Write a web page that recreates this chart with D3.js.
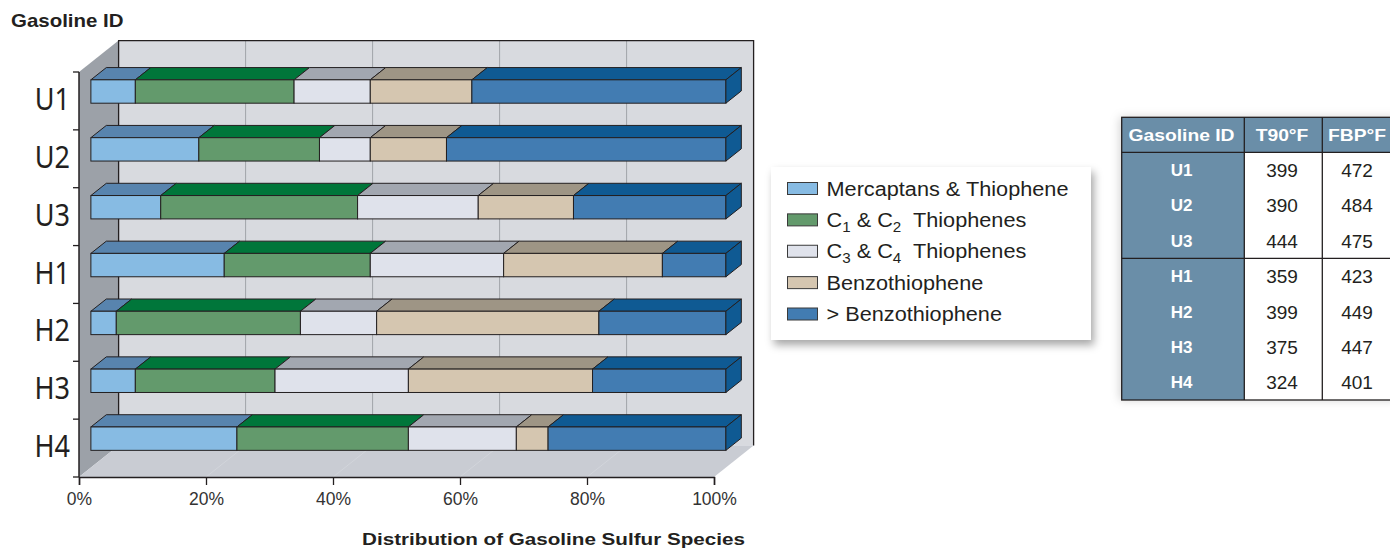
<!DOCTYPE html>
<html>
<head>
<meta charset="utf-8">
<script src="https://cdn.jsdelivr.net/npm/d3@7"></script>
<style>
  html, body { margin: 0; padding: 0; background: #ffffff; }
  svg { display: block; }
</style>
</head>
<body>
<svg id="chart" width="1390" height="550"></svg>
<script>
// ---- data -------------------------------------------------------------
const categories = ["U1", "U2", "U3", "H1", "H2", "H3", "H4"];
const seriesKeys = ["merc", "c12", "c34", "benzo", "heavy"];
const mercaptans = [7, 17, 11, 21, 4, 7, 23];
const c1c2Thiophenes = [25, 19, 31, 23, 29, 22, 27];
const c3c4Thiophenes = [12, 8, 19, 21, 12, 21, 17];
const benzothiophene = [16, 12, 15, 25, 35, 29, 5];
const heavierThanBenzo = [40, 44, 24, 10, 20, 21, 28];
const xTicks = [0, 20, 40, 60, 80, 100];

const tableHeader = ["Gasoline ID", "T90°F", "FBP°F"];
const t90 = [399, 390, 444, 359, 399, 375, 324];
const fbp = [472, 484, 475, 423, 449, 447, 401];

// legend labels as [text, isSubscript] runs
const legendLabels = [
  [["Mercaptans & Thiophene", false]],
  [["C", false], ["1", true], [" & C", false], ["2", true], ["  Thiophenes", false]],
  [["C", false], ["3", true], [" & C", false], ["4", true], ["  Thiophenes", false]],
  [["Benzothiophene", false]],
  [["> Benzothiophene", false]]
];

// ---- styles -----------------------------------------------------------
const frontColor = { merc: "#87bbe3", c12: "#639a6c", c34: "#dfe2eb", benzo: "#d5c6b0", heavy: "#427cb2" };
const topColor   = { merc: "#5884ae", c12: "#00763a", c34: "#a2a7b0", benzo: "#9e9585", heavy: "#0f5a93" };
const sideColor = "#0f5a93";
const ink = "#231f20";
const sans = "'Liberation Sans', Arial, sans-serif";

const rows = categories.map((c, i) => ({
  id: c,
  merc: mercaptans[i], c12: c1c2Thiophenes[i], c34: c3c4Thiophenes[i],
  benzo: benzothiophene[i], heavy: heavierThanBenzo[i]
}));
const stacked = d3.stack().keys(seriesKeys)(rows);

const svg = d3.select("#chart");

// ---- 3D frame geometry -------------------------------------------------
const x = d3.scaleLinear().domain([0, 100]).range([79, 714]);
const y = d3.scaleBand().domain(categories).range([72, 477]).padding(0);
const DX = 39.6, DY = 31.4;          // depth vector of the box
const zFront = 0.3, zBack = 0.69;    // bar front / back depth
const barFrac = 0.404;               // bar thickness as share of band
const proj = (px, py, z) => [px + z * DX, py - z * DY];

const x0 = x(0), x1 = x(100), yTop = y.range()[0], yBot = y.range()[1];
const poly = pts => pts.map(p => p.join(",")).join(" ");

// side wall
svg.append("polygon")
  .attr("points", poly([[x0, yTop], proj(x0, yTop, 1), proj(x0, yBot, 1), [x0, yBot]]))
  .attr("fill", "#9ca1a8");
// back wall
const [bwx0, bwy0] = proj(x0, yTop, 1), [bwx1, bwy1] = proj(x1, yBot, 1);
svg.append("rect")
  .attr("x", bwx0).attr("y", bwy0).attr("width", bwx1 - bwx0).attr("height", bwy1 - bwy0)
  .attr("fill", "#d8dadf");
// floor
svg.append("polygon")
  .attr("points", poly([[x0, yBot], [x1, yBot], proj(x1, yBot, 1), proj(x0, yBot, 1)]))
  .attr("fill", "#c9ccd3");

// gridlines on back wall and floor
xTicks.filter(t => t > 0 && t < 100).forEach(t => {
  const [gx, gy0] = proj(x(t), yTop, 1);
  const [, gy1] = proj(x(t), yBot, 1);
  svg.append("line").attr("x1", gx).attr("x2", gx).attr("y1", gy0).attr("y2", gy1)
    .attr("stroke", "#a0a4a9").attr("stroke-width", 1);
  const [fx, fy] = proj(x(t), yBot, 1);
  svg.append("line").attr("x1", x(t)).attr("y1", yBot).attr("x2", fx).attr("y2", fy)
    .attr("stroke", "#d2d5db").attr("stroke-width", 1);
});

// wall borders (top, right, inner left edge)
svg.append("path")
  .attr("d", `M${bwx0},${bwy1} L${bwx0},${bwy0} L${bwx1},${bwy0} L${bwx1},${bwy1}`)
  .attr("fill", "none").attr("stroke", ink).attr("stroke-width", 1.3);

// ---- axes ---------------------------------------------------------------
const xAxis = svg.append("g").attr("transform", `translate(0,${yBot})`)
  .call(d3.axisBottom(x).tickValues(xTicks).tickFormat(d => d + "%").tickSize(8).tickPadding(8));
xAxis.select(".domain").attr("stroke", ink).attr("stroke-width", 1.5);
xAxis.selectAll(".tick line").attr("stroke", ink).attr("stroke-width", 1.3);
xAxis.selectAll(".tick text")
  .attr("font-family", sans).attr("font-size", 17.5).attr("fill", "#333");

const yEdges = categories.map(c => y(c)).concat([yBot]);
svg.append("line").attr("x1", x0).attr("x2", x0).attr("y1", yTop).attr("y2", yBot)
  .attr("stroke", ink).attr("stroke-width", 1.5);
svg.selectAll(".ytick").data(yEdges).enter().append("line")
  .attr("x1", x0 - 6).attr("x2", x0).attr("y1", d => d).attr("y2", d => d)
  .attr("stroke", ink).attr("stroke-width", 1.3);

// category labels
categories.forEach(c => {
  const cy = y(c) + y.bandwidth() / 2;
  svg.append("g").attr("transform", `translate(70,${cy + 9}) scale(0.86,1)`)
    .append("text").attr("text-anchor", "end")
    .attr("font-family", "'Noto Sans', sans-serif").attr("font-size", 31.5)
    .attr("fill", ink).text(c);
});

// ---- bars ---------------------------------------------------------------
const barsG = svg.append("g");
categories.forEach((c, i) => {
  const bh = y.bandwidth() * barFrac;
  const yc = y(c) + y.bandwidth() / 2;
  const t = yc - bh / 2, b = yc + bh / 2;
  const g = barsG.append("g");
  stacked.forEach(layer => {
    const [v0, v1] = layer[i];
    if (v1 - v0 <= 0) return;
    g.append("polygon")
      .attr("points", poly([proj(x(v0), t, zFront), proj(x(v1), t, zFront), proj(x(v1), t, zBack), proj(x(v0), t, zBack)]))
      .attr("fill", topColor[layer.key]).attr("stroke", ink).attr("stroke-width", 1).attr("stroke-linejoin", "round");
  });
  stacked.forEach(layer => {
    const [v0, v1] = layer[i];
    if (v1 - v0 <= 0) return;
    const [fx0, fy0] = proj(x(v0), t, zFront), [fx1, fy1] = proj(x(v1), b, zFront);
    g.append("rect").attr("x", fx0).attr("y", fy0).attr("width", fx1 - fx0).attr("height", fy1 - fy0)
      .attr("fill", frontColor[layer.key]).attr("stroke", ink).attr("stroke-width", 1);
  });
  const end = stacked[stacked.length - 1][i][1];
  g.append("polygon")
    .attr("points", poly([proj(x(end), t, zFront), proj(x(end), t, zBack), proj(x(end), b, zBack), proj(x(end), b, zFront)]))
    .attr("fill", sideColor).attr("stroke", ink).attr("stroke-width", 1).attr("stroke-linejoin", "round");
});

// ---- titles ---------------------------------------------------------------
svg.append("g").attr("transform", "translate(11,26.5) scale(1.17,1)")
  .append("text").attr("font-family", sans)
  .attr("font-weight", "bold").attr("font-size", 17.5).attr("fill", ink).text("Gasoline ID");

svg.append("g").attr("transform", "translate(553.5,545) scale(1.2,1)")
  .append("text").attr("text-anchor", "middle").attr("font-family", sans)
  .attr("font-weight", "bold").attr("font-size", 17.2).attr("fill", ink)
  .text("Distribution of Gasoline Sulfur Species");

// ---- legend ---------------------------------------------------------------
const defs = svg.append("defs");
const sh = defs.append("filter").attr("id", "shadow").attr("x", "-10%").attr("y", "-10%").attr("width", "125%").attr("height", "135%");
sh.append("feDropShadow").attr("dx", 3).attr("dy", 5).attr("stdDeviation", 4)
  .attr("flood-color", "#000").attr("flood-opacity", 0.35);
const sh2 = defs.append("filter").attr("id", "glow").attr("x", "-10%").attr("y", "-10%").attr("width", "120%").attr("height", "120%");
sh2.append("feDropShadow").attr("dx", -2).attr("dy", 0).attr("stdDeviation", 5)
  .attr("flood-color", "#000").attr("flood-opacity", 0.18);

const legend = svg.append("g");
legend.append("rect").attr("x", 771).attr("y", 167).attr("width", 320).attr("height", 173)
  .attr("fill", "#fff").attr("filter", "url(#shadow)");
const legY = d3.scalePoint().domain(seriesKeys).range([188.5, 314]);
seriesKeys.forEach((k, i) => {
  const cy = legY(k);
  legend.append("rect").attr("x", 787.5).attr("y", cy - 6).attr("width", 30).attr("height", 12)
    .attr("fill", frontColor[k]).attr("stroke", "#3a3a3a").attr("stroke-width", 1);
  const txt = legend.append("g").attr("transform", `translate(826.5,${cy + 7.2}) scale(1.085,1)`)
    .append("text").attr("font-family", sans)
    .attr("font-size", 20).attr("fill", ink).style("white-space", "pre");
  let wasSub = false;
  legendLabels[i].forEach(([s, isSub]) => {
    const ts = txt.append("tspan").text(s);
    if (isSub) ts.attr("font-size", 14).attr("dy", 5);
    else if (wasSub) ts.attr("dy", -5);
    wasSub = isSub;
  });
});

// ---- table ---------------------------------------------------------------
const colEdges = [1121.7, 1244.3, 1322.3, 1400];
const headTop = 117.3, headBot = 152.3, tabBot = 400;
const rowY = d3.scaleBand().domain(categories).range([headBot, tabBot]);
const tbl = svg.append("g");
tbl.append("rect").attr("x", colEdges[0]).attr("y", headTop).attr("width", colEdges[3] - colEdges[0])
  .attr("height", tabBot - headTop).attr("fill", "#fff").attr("filter", "url(#glow)");
tbl.append("rect").attr("x", colEdges[0]).attr("y", headTop).attr("width", colEdges[3] - colEdges[0])
  .attr("height", headBot - headTop).attr("fill", "#6a8ea8");
tbl.append("rect").attr("x", colEdges[0]).attr("y", headBot).attr("width", colEdges[1] - colEdges[0])
  .attr("height", tabBot - headBot).attr("fill", "#6a8ea8");

const colCenters = [1181.5, 1282, 1357];
tableHeader.forEach((h, j) => {
  tbl.append("g").attr("transform", `translate(${colCenters[j]},${(headTop + headBot) / 2 + 6}) scale(1.17,1)`)
    .append("text").attr("text-anchor", "middle").attr("font-family", sans)
    .attr("font-weight", "bold").attr("font-size", 16.5).attr("fill", "#fff").text(h);
});
categories.forEach((c, i) => {
  const cy = rowY(c) + rowY.bandwidth() / 2;
  tbl.append("text").attr("x", colCenters[0]).attr("y", cy + 6).attr("text-anchor", "middle")
    .attr("font-family", sans).attr("font-weight", "bold")
    .attr("font-size", 17).attr("fill", "#fff").text(c);
  [t90[i], fbp[i]].forEach((v, j) => {
    tbl.append("text").attr("x", colCenters[j + 1]).attr("y", cy + 7).attr("text-anchor", "middle")
      .attr("font-family", sans).attr("font-size", 19).attr("fill", ink).text(v);
  });
});
const lineStyle = s => s.attr("stroke", ink).attr("stroke-width", 1.3);
tbl.append("rect").attr("x", colEdges[0]).attr("y", headTop).attr("width", colEdges[3] - colEdges[0])
  .attr("height", tabBot - headTop).attr("fill", "none").call(lineStyle);
[colEdges[1], colEdges[2]].forEach(cx => tbl.append("line").attr("x1", cx).attr("x2", cx)
  .attr("y1", headTop).attr("y2", tabBot).call(lineStyle));
[headBot, rowY("H1")].forEach(ly => tbl.append("line").attr("x1", colEdges[0]).attr("x2", colEdges[3])
  .attr("y1", ly).attr("y2", ly).call(lineStyle));
</script>
</body>
</html>
